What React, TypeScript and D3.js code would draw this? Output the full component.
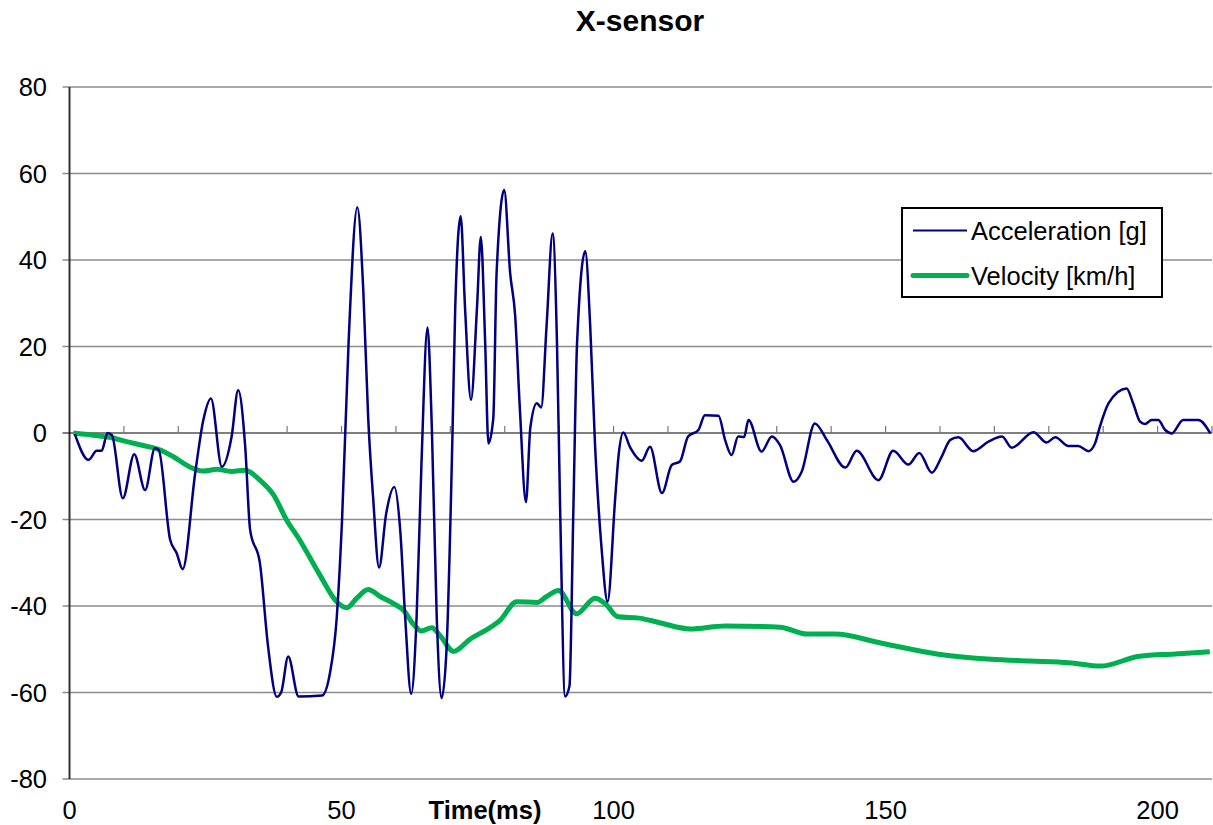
import * as d3 from "d3";
import { useEffect, useRef } from "react";

// [time ms, acceleration g]
const acceleration: [number, number][] = [
  [1.0, -0.3], [3.5, -6.2], [5.0, -4.1], [5.9, -4.1], [7.0, 0], [7.8, -0.5],
  [9.8, -15.1], [11.9, -4.9], [13.9, -13.2], [15.7, -3.5], [16.4, -3.9],
  [18.5, -24.7], [19.7, -27.8], [20.8, -31.5], [23.1, -9.3], [24.6, 3.0],
  [26.0, 8.0], [28.0, -7.8], [29.8, -0.8], [31.0, 9.9], [32.3, -3.2],
  [33.2, -22.4], [35.0, -30.1], [36.5, -49.4], [38.1, -61.0], [38.9, -60],
  [40.2, -51.7], [42.1, -60.9], [46.4, -60.7], [47.9, -55.3], [49.1, -43],
  [50.1, -20], [51.3, 21], [52.9, 52.2], [54.0, 33], [54.9, 3.5],
  [55.8, -14.8], [56.9, -31.1], [58.2, -18.7], [59.7, -12.5], [60.8, -22.7],
  [61.7, -42.6], [62.8, -60.3], [63.8, -42.6], [64.7, -6.8], [65.8, 24.4],
  [66.6, 1.2], [67.5, -42.6], [68.4, -61.3], [69.3, -50], [70.4, 0],
  [70.9, 29], [71.9, 50.1], [72.7, 29], [73.8, 7.7], [74.9, 29], [75.6, 45.3],
  [76.4, 21], [77.0, -2.4], [77.9, 3.5], [78.5, 36.9], [79.9, 56.2],
  [81.0, 36.9], [81.9, 27.4], [82.8, 5.1], [83.9, -16], [84.7, 1.2],
  [85.9, 6.9], [86.7, 5.9], [87.7, 25], [88.8, 46.1], [89.6, 21],
  [90.2, -18.7], [91.1, -60.9], [91.9, -58.5], [92.6, -18.7], [93.3, 21],
  [94.8, 42], [95.7, 25], [96.6, -2.8], [97.8, -26.7], [98.9, -39],
  [100.3, -15.1], [100.9, -5.5], [101.8, 0.1], [103.0, -3.2], [105.2, -6.4],
  [106.7, -3.2], [108.9, -13.9], [110.7, -7.4], [112.2, -6.6], [113.7, -0.8],
  [115.6, 0.7], [116.8, 4.1], [119.3, 4.0], [120.5, -1.6], [121.7, -5.1],
  [122.9, -0.8], [124.0, -0.9], [124.8, 3.0], [127.2, -4.3], [129.1, -0.8],
  [130.6, -2.8], [133.1, -11.3], [134.6, -8.9], [137.0, 2.2], [139.2, -1.6],
  [142.6, -8.0], [144.7, -4.1], [148.7, -10.9], [151.4, -4.1], [154.2, -7.3],
  [156.2, -4.6], [158.5, -9.2], [160.3, -5.5], [161.9, -1.6], [163.4, -1.0],
  [166.1, -4.2], [168.9, -2.0], [171.4, -0.8], [173.2, -3.4], [177.2, 0.2],
  [179.6, -2.2], [181.2, -1.0], [183.6, -3.0], [185.4, -3.0], [187.3, -4.2],
  [188.5, -2.4], [189.4, 1.5], [191.0, 6.9], [194.3, 10.3], [195.5, 6.9],
  [196.8, 2.6], [197.7, 2.1], [198.9, 3.0], [200.1, 3.0], [201.4, 0.7],
  [202.6, -0.1], [204.7, 3.0], [207.5, 3.0], [209.7, -0.1],
];

// [time ms, velocity km/h]
const velocity: [number, number][] = [
  [0.7, 0], [4.4, -0.5], [7.4, -1], [10.5, -2], [13.6, -2.9], [16.6, -3.9],
  [19.1, -5.5], [22.2, -7.9], [24.6, -8.8], [27.1, -8.4], [29.8, -8.9],
  [32.3, -8.6], [35.0, -10.9], [37.5, -14.3], [39.9, -20.1], [42.2, -24.5],
  [46.0, -32.8], [49.1, -39], [51.0, -40.4], [52.8, -38.2], [54.9, -36.2],
  [57.1, -37.8], [59.5, -39.4], [61.4, -41], [63.2, -44.2], [64.7, -45.8],
  [66.6, -45], [68.1, -46.8], [70.6, -50.5], [73.6, -47.7], [77.3, -45],
  [79.1, -43.4], [82.2, -39], [85.9, -39.2], [87.7, -37.8], [89.9, -36.4],
  [93.2, -41.8], [96.6, -38.2], [98.5, -39.5], [100.8, -42.5], [104.7, -42.8],
  [108.3, -43.8], [114, -45.3], [120.5, -44.6], [130.6, -44.9], [135.6, -46.5],
  [140.6, -46.5], [149.3, -48.6], [160, -51.2], [169.4, -52.3], [176.6, -52.7],
  [183.7, -53.1], [189.5, -53.9], [196.7, -51.6], [203.2, -51.1], [209.6, -50.6],
];

const xLabels = [0, 50, 100, 150, 200];
const xMinorTicks = d3.range(10, 211, 10);
const yTicks = [-80, -60, -40, -20, 0, 20, 40, 60, 80];
const seriesNames = ["Acceleration [g]", "Velocity [km/h]"];

export default function App() {
  const svgRef = useRef<SVGSVGElement>(null);

  useEffect(() => {
    document.body.style.margin = "0";
    if (!svgRef.current) return;
    const svg = d3.select(svgRef.current);
    svg.selectAll("*").remove();

    const font = "'Liberation Sans', Arial, sans-serif";
    const fs = 25.5;
    const x = d3.scaleLinear().domain([0, 210]).range([69.5, 1212]);
    const y = d3.scaleLinear().domain([-80, 80]).range([779, 87]);

    // title
    svg.append("text")
      .attr("x", 640)
      .attr("y", 31)
      .attr("text-anchor", "middle")
      .style("font-family", font)
      .style("font-size", "30px")
      .style("font-weight", "bold")
      .text("X-sensor");

    // gridlines
    svg.append("g")
      .selectAll("line")
      .data(yTicks.filter((d) => d !== 0))
      .enter()
      .append("line")
      .attr("x1", x(0) - 7)
      .attr("x2", x(210))
      .attr("y1", (d) => y(d))
      .attr("y2", (d) => y(d))
      .attr("stroke", "#8c8c8c")
      .attr("stroke-width", 1.5);

    // y axis
    svg.append("line")
      .attr("x1", x(0)).attr("x2", x(0))
      .attr("y1", y(80)).attr("y2", y(-80))
      .attr("stroke", "#333").attr("stroke-width", 2);
    svg.append("line")
      .attr("x1", x(0) - 7).attr("x2", x(0))
      .attr("y1", y(0)).attr("y2", y(0))
      .attr("stroke", "#000").attr("stroke-width", 1);

    svg.append("g")
      .selectAll("text")
      .data(yTicks)
      .enter()
      .append("text")
      .attr("x", 47)
      .attr("y", (d) => y(d) + 9)
      .attr("text-anchor", "end")
      .style("font-family", font)
      .style("font-size", `${fs}px`)
      .text((d) => d);

    // zero line with minor ticks
    svg.append("line")
      .attr("x1", x(0)).attr("x2", x(210))
      .attr("y1", y(0)).attr("y2", y(0))
      .attr("stroke", "#000").attr("stroke-width", 1.2);
    svg.append("g")
      .selectAll("line")
      .data(xMinorTicks)
      .enter()
      .append("line")
      .attr("x1", (d) => x(d)).attr("x2", (d) => x(d))
      .attr("y1", y(0) - 7).attr("y2", y(0))
      .attr("stroke", "#777").attr("stroke-width", 1.2);

    // x labels
    svg.append("g")
      .selectAll("text")
      .data(xLabels)
      .enter()
      .append("text")
      .attr("x", (d) => x(d))
      .attr("y", 819)
      .attr("text-anchor", "middle")
      .style("font-family", font)
      .style("font-size", `${fs}px`)
      .text((d) => d);

    svg.append("text")
      .attr("x", 485)
      .attr("y", 819)
      .attr("text-anchor", "middle")
      .style("font-family", font)
      .style("font-size", `${fs}px`)
      .style("font-weight", "bold")
      .text("Time(ms)");

    const line = d3.line<[number, number]>()
      .x((d) => x(d[0]))
      .y((d) => y(d[1]))
      .curve(d3.curveMonotoneX);

    svg.append("path")
      .datum(velocity)
      .attr("fill", "none")
      .attr("stroke", "#00b050")
      .attr("stroke-width", 5)
      .attr("stroke-linejoin", "round")
      .attr("d", line);

    svg.append("path")
      .datum(acceleration)
      .attr("fill", "none")
      .attr("stroke", "#000080")
      .attr("stroke-width", 2.5)
      .attr("stroke-linejoin", "round")
      .attr("d", line);

    // legend
    const legend = svg.append("g").attr("transform", "translate(902,208)");
    legend.append("rect")
      .attr("width", 260)
      .attr("height", 89)
      .attr("fill", "#fff")
      .attr("stroke", "#000")
      .attr("stroke-width", 2);
    const colors = ["#000080", "#00b050"];
    const widths = [2, 5];
    seriesNames.forEach((name, i) => {
      const cy = 22.5 + i * 45;
      legend.append("line")
        .attr("x1", 11).attr("x2", 65)
        .attr("y1", cy).attr("y2", cy)
        .attr("stroke", colors[i])
        .attr("stroke-width", widths[i])
        .attr("stroke-linecap", i === 1 ? "round" : "butt");
      legend.append("text")
        .attr("x", 69)
        .attr("y", cy + 9)
        .style("font-family", font)
        .style("font-size", `${fs}px`)
        .text(name);
    });
  }, []);

  return <svg ref={svgRef} width={1213} height={825} style={{ display: "block" }} />;
}
